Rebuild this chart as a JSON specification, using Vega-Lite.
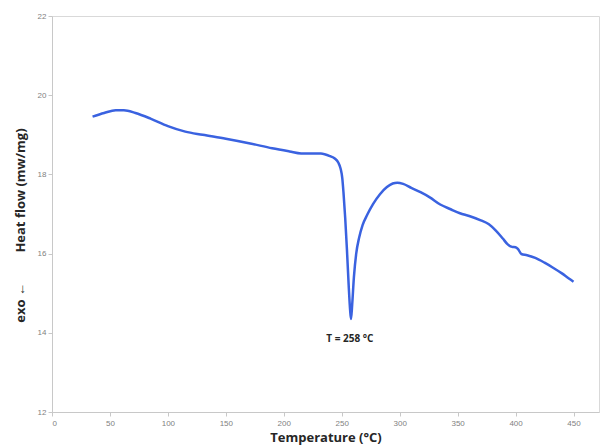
{
  "$schema": "https://vega.github.io/schema/vega-lite/v6.json",
  "width": 547,
  "height": 396,
  "autosize": {"type": "none"},
  "padding": {"left": 52, "top": 16, "right": 4, "bottom": 36},
  "background": "white",
  "config": {
    "view": {"stroke": "#d9d9d9", "strokeWidth": 1},
    "axis": {"grid": false, "domainColor": "#c8c8c8", "tickColor": "#c8c8c8", "labelColor": "#7f7f7f", "labelFontSize": 8, "labelFont": "Liberation Sans", "titleFont": "Open Sans", "titleFontSize": 13, "titleFontWeight": "bold", "titleColor": "#262626", "tickSize": 4}
  },
  "layer": [
    {
      "data": {"values": [
        {"T": 35, "v": 19.46}, {"T": 45, "v": 19.55}, {"T": 55, "v": 19.62}, {"T": 62, "v": 19.62}, {"T": 72, "v": 19.55},
        {"T": 85, "v": 19.41}, {"T": 100, "v": 19.22}, {"T": 115, "v": 19.08}, {"T": 130, "v": 19.0}, {"T": 150, "v": 18.9},
        {"T": 171, "v": 18.78}, {"T": 190, "v": 18.66}, {"T": 205, "v": 18.58}, {"T": 215, "v": 18.53}, {"T": 225, "v": 18.53},
        {"T": 232, "v": 18.53}, {"T": 240, "v": 18.46}, {"T": 244, "v": 18.4}, {"T": 247, "v": 18.3}, {"T": 249, "v": 18.15},
        {"T": 250.5, "v": 17.9}, {"T": 251.5, "v": 17.55}, {"T": 253, "v": 16.9}, {"T": 254.5, "v": 16.1}, {"T": 256, "v": 15.2},
        {"T": 257.3, "v": 14.55}, {"T": 258, "v": 14.35}, {"T": 259, "v": 14.7}, {"T": 260.5, "v": 15.4}, {"T": 262.5, "v": 16.0},
        {"T": 265, "v": 16.4}, {"T": 268, "v": 16.72}, {"T": 272, "v": 16.98}, {"T": 277, "v": 17.25}, {"T": 283, "v": 17.5},
        {"T": 289, "v": 17.68}, {"T": 294, "v": 17.77}, {"T": 298, "v": 17.79}, {"T": 303, "v": 17.76}, {"T": 310, "v": 17.66},
        {"T": 318, "v": 17.55}, {"T": 326, "v": 17.42}, {"T": 335, "v": 17.24}, {"T": 344, "v": 17.12}, {"T": 352, "v": 17.02},
        {"T": 360, "v": 16.95}, {"T": 370, "v": 16.84}, {"T": 377, "v": 16.74}, {"T": 383, "v": 16.58}, {"T": 389, "v": 16.38},
        {"T": 393, "v": 16.24}, {"T": 397, "v": 16.17}, {"T": 400, "v": 16.16}, {"T": 402, "v": 16.12}, {"T": 405, "v": 15.99},
        {"T": 410, "v": 15.96}, {"T": 417, "v": 15.89}, {"T": 425, "v": 15.77}, {"T": 432, "v": 15.65}, {"T": 440, "v": 15.5},
        {"T": 446, "v": 15.37}, {"T": 450, "v": 15.29}
      ]},
      "mark": {"type": "line", "color": "#3a62e0", "strokeWidth": 2.5, "interpolate": "monotone"},
      "encoding": {
        "x": {"field": "T", "type": "quantitative", "scale": {"domain": [0, 472], "nice": false},
          "axis": {"title": "Temperature (°C)", "values": [0,25,50,75,100,125,150,175,200,225,250,275,300,325,350,375,400,425,450],
            "labelExpr": "datum.value % 50 == 0 ? datum.label : ''", "labelPadding": 3, "titlePadding": 4}},
        "y": {"field": "v", "type": "quantitative", "scale": {"domain": [12, 22], "nice": false, "zero": false},
          "axis": {"title": "exo ←\u00a0\u00a0\u00a0\u00a0\u00a0\u00a0\u00a0\u00a0\u00a0Heat flow (mw/mg)", "values": [12,13,14,15,16,17,18,19,20,21,22],
            "labelExpr": "datum.value % 2 == 0 ? datum.label : ''", "titleY": 209, "titlePadding": 10}}
      }
    },
    {
      "data": {"values": [{"T": 257, "v": 13.85, "label": "T = 258 °C"}]},
      "mark": {"type": "text", "font": "Open Sans", "fontWeight": "bold", "fontSize": 10, "color": "#262626"},
      "encoding": {
        "x": {"field": "T", "type": "quantitative"},
        "y": {"field": "v", "type": "quantitative"},
        "text": {"field": "label"}
      }
    }
  ]
}
